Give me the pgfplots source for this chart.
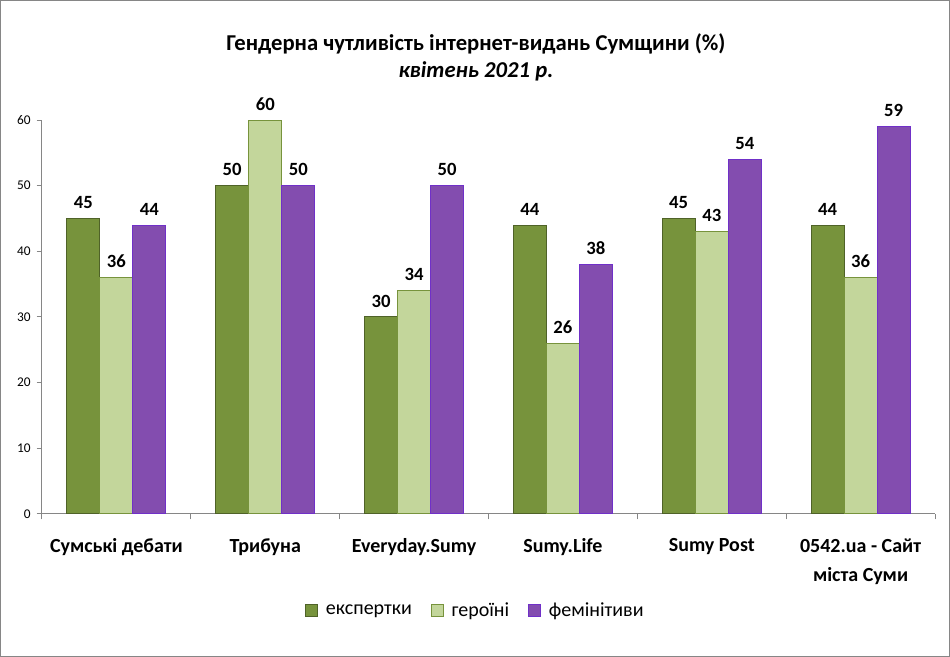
\documentclass[border=0pt]{standalone}
\usepackage{pgfplots}
\pgfplotsset{compat=1.18}
\usepackage{fontspec}
\setmainfont{Carlito}
\definecolor{cA}{RGB}{119,147,60}
\definecolor{cAe}{RGB}{79,98,40}
\definecolor{cB}{RGB}{195,214,155}
\definecolor{cBe}{RGB}{119,147,60}
\definecolor{cC}{RGB}{131,77,175}
\definecolor{cCe}{RGB}{112,48,200}
\definecolor{axg}{RGB}{134,134,134}
\begin{document}
\begin{tikzpicture}
\path[use as bounding box] (0,0) rectangle (712.5pt,492.75pt);
\draw[axg, line width=0.75pt] (0.4pt,0.4pt) rectangle (712.1pt,492.35pt);
\node[font=\fontsize{17}{20.5}\selectfont\bfseries, align=center] at (357pt,449.5pt) {Гендерна чутливість інтернет-видань Сумщини (\%)\\\itshape квітень 2021 р.};
\begin{axis}[
  at={(31.5pt,107.25pt)}, anchor=south west,
  scale only axis, width=669.75pt, height=295.5pt,
  ybar=0pt, bar width=0.222,
  xmin=-0.5, xmax=5.5, ymin=0, ymax=60,
  axis x line*=bottom, axis y line*=left,
  axis line style={axg, line width=0.75pt, -},
  xtick={0,...,5},
  xticklabels={Сумські дебати, Трибуна, Everyday.Sumy, Sumy.Life, Sumy Post, {0542.ua - Сайт\\[2pt]міста Суми}},
  xticklabel style={font=\fontsize{15}{20}\selectfont\bfseries, align=center, yshift=-11pt, anchor=north},
  major x tick style={draw=none},
  minor xtick={-0.5,0.5,...,5.5},
  minor tick length=4pt,
  minor x tick style={axg, line width=0.75pt},
  ytick={0,10,...,60},
  yticklabel style={font=\fontsize{10}{12}\selectfont, xshift=-1pt},
  major tick length=4pt,
  y tick style={axg, line width=0.75pt},
  tick align=outside,
  /pgf/number format/assume math mode=true,
  nodes near coords,
  every node near coord/.append style={font=\fontsize{14}{16}\selectfont\bfseries, black, yshift=3.5pt},
  clip=false,
  legend style={at={(0.4855,-0.246)}, anchor=center, draw=none, legend columns=3, font=\fontsize{15}{18}\selectfont,
    /tikz/every even column/.append style={column sep=12pt}},
  legend image code/.code={\draw[#1, line width=0.75pt] (0pt,-4.5pt) rectangle (9pt,4.5pt); \path (13pt,0pt);},
]
\addplot[fill=cA, draw=cAe, line width=0.75pt] coordinates {(0,45) (1,50) (2,30) (3,44) (4,45) (5,44)};
\addplot[fill=cB, draw=cBe, line width=0.75pt] coordinates {(0,36) (1,60) (2,34) (3,26) (4,43) (5,36)};
\addplot[fill=cC, draw=cCe, line width=0.75pt] coordinates {(0,44) (1,50) (2,50) (3,38) (4,54) (5,59)};
\legend{експертки, героїні, фемінітиви}
\end{axis}
\end{tikzpicture}
\end{document}
